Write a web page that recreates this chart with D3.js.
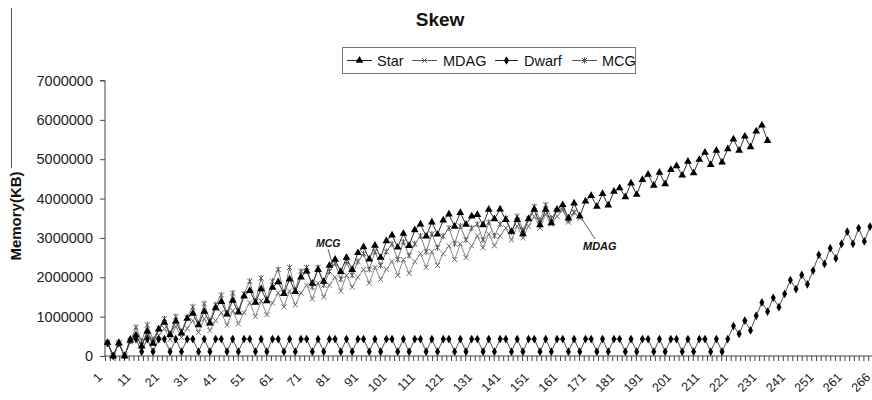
<!DOCTYPE html>
<html>
<head>
<meta charset="utf-8">
<script src="https://cdn.jsdelivr.net/npm/d3@7"></script>
<style>
  html, body { margin: 0; padding: 0; background: #fff; }
  svg { display: block; }
  text { font-family: "Liberation Sans", Arial, sans-serif; }
</style>
</head>
<body>
<svg id="chart" width="872" height="400"></svg>
<script>
// Memory use per step, in thousands of KB
const starK = [
  340, 0, 330, 0, 400,
  530, 250, 620, 320, 680,
  850, 540, 880, 580, 950,
  1080, 790, 1130, 830, 1220,
  1380, 1060, 1410, 1110, 1520,
  1660, 1360, 1700, 1400, 1740,
  1880, 1580, 1950, 1630, 2000,
  2150, 1840, 2190, 1890, 2300,
  2450, 2140, 2500, 2190, 2620,
  2770, 2460, 2810, 2500, 2920,
  3070, 2760, 3110, 2800, 3200,
  3350, 3040, 3400, 3090, 3450,
  3600, 3290, 3640, 3340, 3550,
  3590, 3330, 3720, 3480, 3730,
  3460, 3160, 3460, 3100, 3480,
  3720, 3330, 3720, 3380, 3720,
  3840, 3500, 3880, 3550, 3930,
  4070, 3800, 4120, 3830, 4180,
  4270, 4040, 4390, 4100, 4480,
  4610, 4330, 4660, 4370, 4730,
  4830, 4590, 4940, 4650, 4990,
  5170, 4860, 5220, 4920, 5260,
  5510, 5220, 5580, 5310, 5710,
  5860, 5470
];

const mdagK = [
  330, 0, 330, 0, 360,
  500, 280, 560, 300, 520,
  700, 420, 750, 470, 700,
  900, 600, 950, 650, 900,
  1100, 780, 1150, 820, 1100,
  1350, 1000, 1400, 1050, 1350,
  1600, 1250, 1650, 1300, 1600,
  1800, 1450, 1850, 1500, 1800,
  2000, 1650, 2050, 1750, 2000,
  2200, 1850, 2250, 1950, 2200,
  2400, 2050, 2450, 2100, 2400,
  2600, 2250, 2650, 2300, 2600,
  2800, 2450, 2850, 2500, 2800,
  3050, 2750, 3100, 2800, 3050,
  3250, 2950, 3300, 3000, 3300,
  3550, 3250, 3600, 3350, 3550,
  3700, 3400, 3650, 3500
];

const dwarfK = [
  330, 0, 330, 0, 420,
  430, 110, 430, 110, 430,
  430, 110, 430, 110, 430,
  430, 110, 430, 110, 430,
  430, 110, 430, 110, 430,
  430, 110, 430, 110, 430,
  430, 110, 430, 110, 430,
  430, 110, 430, 110, 430,
  430, 110, 430, 110, 430,
  430, 110, 430, 110, 430,
  430, 110, 430, 110, 430,
  430, 110, 430, 110, 430,
  430, 110, 430, 110, 430,
  430, 110, 430, 110, 430,
  430, 110, 430, 110, 430,
  430, 110, 430, 110, 430,
  430, 110, 430, 110, 430,
  430, 110, 430, 110, 430,
  430, 110, 430, 110, 430,
  430, 110, 430, 110, 430,
  430, 110, 430, 110, 430,
  430, 110, 430, 110, 430,
  760, 560, 900, 650, 1020,
  1360, 1130, 1480, 1240, 1580,
  1930, 1700, 2060, 1820, 2170,
  2570, 2340, 2740, 2480, 2850,
  3160, 2850, 3250, 2910, 3290
];

const mcgK = [
  330, 0, 330, 0, 380,
  730, 380, 790, 420, 700,
  950, 560, 1000, 620, 980,
  1250, 820, 1330, 900, 1300,
  1550, 1080, 1600, 1150, 1580,
  1900, 1380, 1980, 1450, 1900,
  2200, 1600, 2250, 1680, 2150,
  2250, 1750, 2250, 1800, 2150,
  2350, 1950, 2400, 2050, 2400,
  2600, 2200, 2650, 2300, 2650,
  2850, 2450, 2900, 2550, 2850,
  3050, 2650, 3100, 2750, 3050,
  3250, 2850, 3300, 2950, 3250,
  3350, 2950, 3400, 3050, 3350,
  3500, 3150, 3550, 3200, 3500,
  3800, 3450, 3840, 3500, 3700,
  3750, 3450, 3650
];

const xTickLabels = ["1","11","21","31","41","51","61","71","81","91","101","111","121",
  "131","141","151","161","171","181","191","201","211","221","231","241","251","261","266"];
const yTickValues = [0, 1000, 2000, 3000, 4000, 5000, 6000, 7000];

// ---- layout ----
const svg = d3.select("#chart");
const FONT = '"Liberation Sans", Arial, sans-serif';
const plot = { left: 105, right: 872, top: 80.5, bottom: 356 };
const pointsPerLabel = 5;
const minorPerLabel = 6;

const x = d3.scaleLinear()
  .domain([0, (xTickLabels.length - 1) * pointsPerLabel])
  .range([107.5, 875.7]);
const y = d3.scaleLinear().domain([0, 7000]).range([plot.bottom, plot.top]);

// frame line at the far left of the figure
svg.append("line")
  .attr("x1", 11.5).attr("x2", 11.5).attr("y1", 8).attr("y2", 168)
  .attr("stroke", "#555").attr("stroke-width", 1);

// title
svg.append("text")
  .attr("x", 440).attr("y", 26)
  .attr("text-anchor", "middle")
  .attr("font-size", 19).attr("font-weight", "bold").attr("fill", "#111")
  .text("Skew");

// y axis
const yAxis = d3.axisLeft(y)
  .tickValues(yTickValues)
  .tickSize(5)
  .tickPadding(7)
  .tickFormat(d => String(d * 1000));
const gy = svg.append("g").attr("transform", `translate(${plot.left},0)`).call(yAxis);
gy.select(".domain").attr("stroke", "#444").attr("d", `M-5,${plot.top}H0V${plot.bottom}`);
gy.selectAll(".tick line").attr("stroke", "#444");
gy.selectAll(".tick text")
  .attr("font-family", FONT).attr("font-size", 14.5).attr("fill", "#222");

// y axis title
svg.append("text")
  .attr("transform", "translate(21,216) rotate(-90)")
  .attr("text-anchor", "middle")
  .attr("font-size", 15).attr("font-weight", "bold").attr("fill", "#111")
  .text("Memory(KB)");

// x axis: minor tick marks
const nMinor = (xTickLabels.length - 1) * minorPerLabel;
const xMinor = d3.scaleLinear().domain([0, nMinor]).range([plot.left, plot.left + nMinor * 4.74]);
const gxm = svg.append("g").attr("transform", `translate(0,${plot.bottom})`)
  .call(d3.axisBottom(xMinor).tickValues(d3.range(0, nMinor + 1)).tickSize(5).tickFormat(""));
gxm.select(".domain").attr("stroke", "#444").attr("d", `M${plot.left},0H${plot.right}`);
gxm.selectAll(".tick line").attr("stroke", "#444");

// x axis: rotated category labels
const labelIdx = xTickLabels.map((_, k) => k * pointsPerLabel);
const gx = svg.append("g").attr("transform", `translate(0,${plot.bottom})`)
  .call(d3.axisBottom(x).tickValues(labelIdx).tickSize(0)
    .tickFormat((d, k) => xTickLabels[k]));
gx.select(".domain").remove();
gx.selectAll(".tick text")
  .attr("font-family", FONT).attr("font-size", 12.5).attr("fill", "#222")
  .attr("text-anchor", "end")
  .attr("dy", null).attr("y", null)
  .attr("transform", "translate(-5,22) rotate(-45)");

// markers
const symX = {
  draw(ctx, size) {
    const r = Math.sqrt(size) / 2;
    ctx.moveTo(-r, -r); ctx.lineTo(r, r);
    ctx.moveTo(r, -r); ctx.lineTo(-r, r);
  }
};
const symStar = {
  draw(ctx, size) {
    const r = Math.sqrt(size) / 2;
    ctx.moveTo(-r, -r); ctx.lineTo(r, r);
    ctx.moveTo(r, -r); ctx.lineTo(-r, r);
    ctx.moveTo(0, -r * 1.2); ctx.lineTo(0, r * 1.2);
  }
};

const series = [
  { name: "MDAG", data: mdagK, line: "#8a8a8a", mark: d3.symbol(symX, 26), fill: "none", stroke: "#6a6a6a" },
  { name: "MCG", data: mcgK, line: "#7a7a7a", mark: d3.symbol(symStar, 26), fill: "none", stroke: "#555" },
  { name: "Dwarf", data: dwarfK, line: "#555", mark: d3.symbol(d3.symbolDiamond, 22), fill: "#000", stroke: "none" },
  { name: "Star", data: starK, line: "#333", mark: d3.symbol(d3.symbolTriangle, 26), fill: "#000", stroke: "none" }
];

const line = d3.line().x((d, i) => x(i)).y(d => y(d));
series.forEach(s => {
  const g = svg.append("g").attr("class", "series");
  g.append("path").datum(s.data)
    .attr("d", line).attr("fill", "none")
    .attr("stroke", s.line).attr("stroke-width", 1);
  g.selectAll("path.m").data(s.data).join("path").attr("class", "m")
    .attr("transform", (d, i) => `translate(${x(i)},${y(d)})`)
    .attr("d", s.mark)
    .attr("fill", s.fill).attr("stroke", s.stroke).attr("stroke-width", 1);
});

// legend
const legend = svg.append("g");
legend.append("rect").attr("x", 342.5).attr("y", 47.5).attr("width", 293).attr("height", 26)
  .attr("fill", "#fff").attr("stroke", "#777").attr("stroke-width", 1);
const legendPos = [
  { name: "Star", x0: 347, x1: 372, tx: 377 },
  { name: "MDAG", x0: 412, x1: 437, tx: 443 },
  { name: "Dwarf", x0: 495, x1: 518, tx: 524 },
  { name: "MCG", x0: 572, x1: 597, tx: 602 }
];
legendPos.forEach(p => {
  const s = series.find(d => d.name === p.name);
  legend.append("line").attr("x1", p.x0).attr("x2", p.x1).attr("y1", 60.5).attr("y2", 60.5)
    .attr("stroke", p.name === "Star" || p.name === "Dwarf" ? "#222" : "#555").attr("stroke-width", 1);
  legend.append("path").attr("transform", `translate(${(p.x0 + p.x1) / 2},60.5)`)
    .attr("d", s.mark).attr("fill", s.fill).attr("stroke", s.stroke);
  legend.append("text").attr("x", p.tx).attr("y", 65.5)
    .attr("font-size", 14.5).attr("fill", "#111").text(p.name);
});

// callouts
svg.append("line").attr("x1", 328).attr("y1", 249).attr("x2", 333).attr("y2", 266)
  .attr("stroke", "#333").attr("stroke-width", 0.8);
svg.append("text").attr("x", 316).attr("y", 247)
  .attr("font-size", 10.5).attr("font-weight", "bold").attr("font-style", "italic").attr("fill", "#111")
  .text("MCG");
svg.append("line").attr("x1", 595).attr("y1", 239).attr("x2", 582).attr("y2", 219)
  .attr("stroke", "#333").attr("stroke-width", 0.8);
svg.append("text").attr("x", 583).attr("y", 250)
  .attr("font-size", 11).attr("font-weight", "bold").attr("font-style", "italic").attr("fill", "#111")
  .text("MDAG");
</script>
</body>
</html>
